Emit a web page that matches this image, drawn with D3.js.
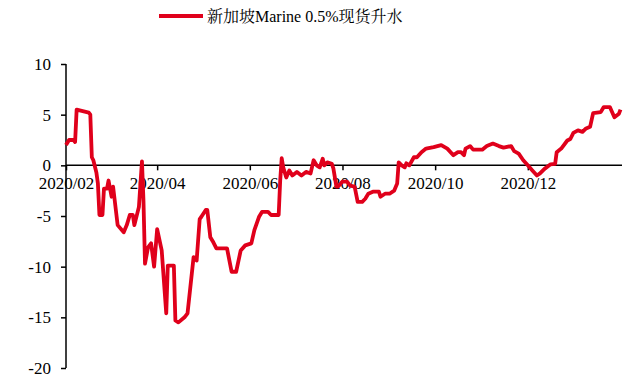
<!DOCTYPE html>
<html>
<head>
<meta charset="utf-8">
<script src="https://cdn.jsdelivr.net/npm/d3@7"></script>
<style>
  body { margin: 0; background: #fff; }
  svg text { font-family: "Liberation Serif", "Times New Roman", "Noto Serif CJK SC", "Noto Sans CJK SC", serif; fill: #000; }
</style>
</head>
<body>
<div id="chart"></div>
<script>
// 新加坡Marine 0.5%现货升水
const seriesName = "新加坡Marine 0.5%现货升水";

const dates = [
  "2020-02-01","2020-02-03","2020-02-06","2020-02-07","2020-02-08","2020-02-16","2020-02-17","2020-02-18",
  "2020-02-19","2020-02-21","2020-02-22","2020-02-23","2020-02-25","2020-02-26","2020-02-28","2020-02-29",
  "2020-03-02","2020-03-03","2020-03-06","2020-03-10","2020-03-12","2020-03-14","2020-03-16","2020-03-17",
  "2020-03-20","2020-03-22","2020-03-23","2020-03-24","2020-03-26","2020-03-28","2020-03-30","2020-04-01",
  "2020-04-04","2020-04-07","2020-04-08","2020-04-12","2020-04-13","2020-04-15","2020-04-19","2020-04-21",
  "2020-04-25","2020-04-27","2020-04-29","2020-04-30","2020-05-03","2020-05-04","2020-05-06","2020-05-08",
  "2020-05-10","2020-05-17","2020-05-20","2020-05-23","2020-05-26","2020-05-29","2020-06-02","2020-06-04",
  "2020-06-07","2020-06-09","2020-06-13","2020-06-15","2020-06-20","2020-06-21","2020-06-22","2020-06-23",
  "2020-06-25","2020-06-27","2020-06-29","2020-07-02","2020-07-05","2020-07-08","2020-07-11","2020-07-13",
  "2020-07-15","2020-07-17","2020-07-19","2020-07-20","2020-07-22","2020-07-25","2020-07-26","2020-07-28",
  "2020-07-29","2020-08-01","2020-08-04","2020-08-06","2020-08-09","2020-08-11","2020-08-14","2020-08-16",
  "2020-08-18","2020-08-21","2020-08-25","2020-08-26","2020-08-29","2020-09-01","2020-09-04","2020-09-06",
  "2020-09-07","2020-09-09","2020-09-11","2020-09-12","2020-09-14","2020-09-17","2020-09-19","2020-09-22",
  "2020-09-25","2020-09-30","2020-10-05","2020-10-09","2020-10-13","2020-10-16","2020-10-18","2020-10-20",
  "2020-10-21","2020-10-24","2020-10-26","2020-11-01","2020-11-04","2020-11-08","2020-11-12","2020-11-15",
  "2020-11-20","2020-11-22","2020-11-25","2020-11-28","2020-12-01","2020-12-04","2020-12-07","2020-12-09",
  "2020-12-12","2020-12-16","2020-12-19","2020-12-20","2020-12-23","2020-12-27","2020-12-29","2020-12-31",
  "2021-01-03","2021-01-06","2021-01-08","2021-01-11","2021-01-13","2021-01-18","2021-01-20","2021-01-24",
  "2021-01-27","2021-01-30","2021-01-31"
];

const values = [
  2.0, 2.5, 2.5, 2.3, 5.5, 5.2, 5.0, 0.8,
  0.5, -0.7, -1.8, -4.9, -4.9, -2.3, -2.3, -1.5,
  -3.1, -2.1, -5.9, -6.6, -5.9, -4.9, -4.9, -5.9,
  -4.1, 0.4, -3.5, -9.7, -8.1, -7.7, -10.0, -6.3,
  -8.4, -14.6, -9.9, -9.9, -15.3, -15.5, -15.0, -14.6,
  -9.05, -9.4, -5.3, -5.1, -4.4, -4.4, -7.1, -7.6,
  -8.2, -8.2, -10.5, -10.5, -8.4, -7.9, -7.7, -6.4,
  -5.1, -4.6, -4.6, -4.9, -4.9, -1.5, 0.7, -0.2,
  -1.2, -0.5, -1.0, -0.65, -1.0, -0.65, -0.8, 0.5,
  0.0, -0.2, 0.65, 0.0, 0.3, 0.15, -0.3, -2.1,
  -2.1, -1.6, -1.6, -2.0, -2.1, -3.6, -3.6, -3.3,
  -2.8, -2.6, -2.6, -3.1, -2.8, -2.8, -2.5, -1.8,
  0.3, 0.0, -0.2, 0.2, 0.0, 0.8, 0.8, 1.3,
  1.65, 1.8, 2.0, 1.65, 1.0, 1.3, 1.3, 1.0,
  1.65, 1.9, 1.55, 1.55, 1.9, 2.15, 1.9, 1.75,
  1.9, 1.4, 1.15, 0.5, 0.0, -0.5, -1.0, -0.8,
  -0.35, 0.1, 0.15, 1.3, 1.65, 2.45, 2.6, 3.2,
  3.45, 3.3, 3.6, 3.8, 5.15, 5.25, 5.75, 5.75,
  4.75, 5.1, 5.5
];

const yTicks = [10, 5, 0, -5, -10, -15, -20];
const xTickDates = ["2020-02-01","2020-04-01","2020-06-01","2020-08-01","2020-10-01","2020-12-01"];

const parse = d3.timeParse("%Y-%m-%d");
const data = dates.map((d, i) => ({ date: parse(d), value: values[i] }));

const width = 628, height = 379;
const margin = { top: 64, right: 6, bottom: 11, left: 66 };

const svg = d3.select("#chart")
    .append("svg")
    .attr("width", width)
    .attr("height", height);

const x = d3.scaleTime()
    .domain([parse("2020-02-01"), parse("2021-02-01")])
    .range([margin.left, width - margin.right]);

const y = d3.scaleLinear()
    .domain([-20, 10])
    .range([height - margin.bottom, margin.top]);

// Eje Y
const yAxis = svg.append("g")
    .attr("transform", `translate(${margin.left},0)`)
    .call(d3.axisLeft(y).tickValues(yTicks).tickSize(5).tickPadding(10).tickFormat(d => String(d)));
yAxis.selectAll("path, line").attr("stroke", "#000").attr("stroke-width", 1.5);
yAxis.select(".domain").attr("d", `M0,${y(10)}V${y(-20)}`);
yAxis.selectAll("text").style("font-size", "17px");

// Eje X en y=0
const xAxis = svg.append("g")
    .attr("transform", `translate(0,${y(0)})`)
    .call(d3.axisBottom(x).tickValues(xTickDates.map(parse)).tickSize(5).tickPadding(7)
        .tickFormat(d3.timeFormat("%Y/%m")));
xAxis.selectAll("path, line").attr("stroke", "#000").attr("stroke-width", 1.5);
xAxis.select(".domain").attr("d", `M${margin.left},0H${width - margin.right}`);
xAxis.selectAll("text").style("font-size", "17px");

// Línea
const line = d3.line()
    .x(d => x(d.date))
    .y(d => y(d.value));

svg.append("path")
    .datum(data)
    .attr("fill", "none")
    .attr("stroke", "#e0001b")
    .attr("stroke-width", 3.8)
    .attr("stroke-linejoin", "round")
    .attr("d", line);

// Leyenda
svg.append("line")
    .attr("x1", 159).attr("x2", 203)
    .attr("y1", 16).attr("y2", 16)
    .attr("stroke", "#e0001b")
    .attr("stroke-width", 4);

svg.append("text")
    .attr("x", 207)
    .attr("y", 16)
    .attr("dy", "0.35em")
    .style("font-size", "16px")
    .text(seriesName);
</script>
</body>
</html>
